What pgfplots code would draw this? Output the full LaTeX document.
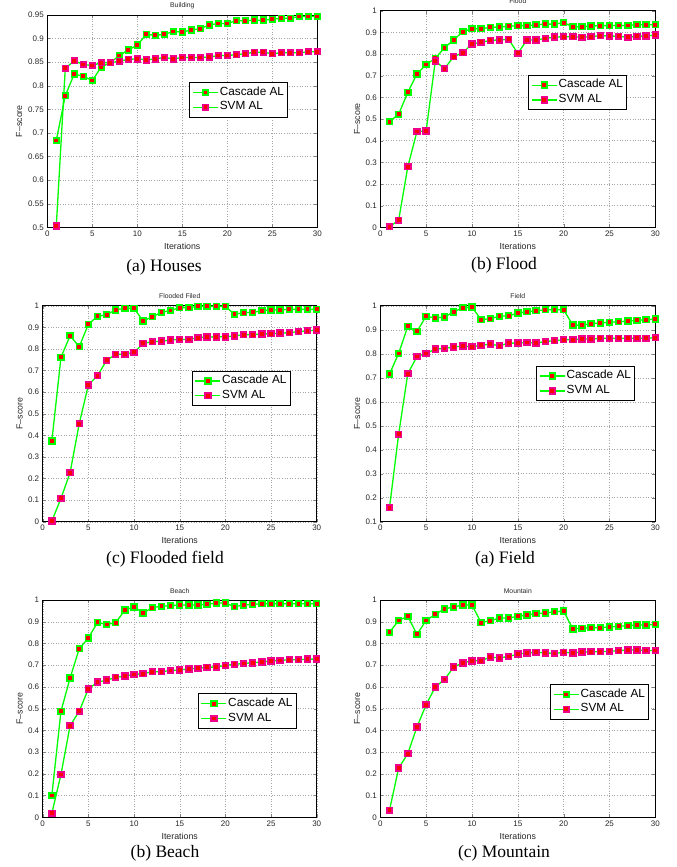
\documentclass[border=0pt]{standalone}
\usepackage{pgfplots}
\pgfplotsset{compat=1.18}
\usepackage{pgfplotstable}
\usepackage{fontspec}
\setmainfont{Liberation Sans}
\newfontfamily\capfont{Liberation Serif}

% x, Cascade AL, SVM AL
\pgfplotstableread{
x c s
1 0.684 0.503
2 0.779 0.837
3 0.825 0.853
4 0.820 0.845
5 0.811 0.843
6 0.840 0.849
7 0.849 0.849
8 0.864 0.852
9 0.876 0.856
10 0.886 0.857
11 0.909 0.855
12 0.907 0.857
13 0.909 0.860
14 0.915 0.857
15 0.914 0.860
16 0.918 0.860
17 0.921 0.860
18 0.929 0.861
19 0.932 0.864
20 0.932 0.864
21 0.938 0.866
22 0.938 0.868
23 0.939 0.871
24 0.939 0.871
25 0.941 0.868
26 0.943 0.870
27 0.943 0.870
28 0.947 0.870
29 0.947 0.872
30 0.947 0.872
}\houses

\pgfplotstableread{
x c s
1 0.488 0.003
2 0.522 0.032
3 0.623 0.280
4 0.708 0.442
5 0.752 0.445
6 0.780 0.768
7 0.829 0.732
8 0.865 0.788
9 0.903 0.806
10 0.917 0.846
11 0.917 0.854
12 0.923 0.863
13 0.925 0.865
14 0.928 0.868
15 0.931 0.803
16 0.931 0.865
17 0.935 0.865
18 0.938 0.872
19 0.938 0.878
20 0.945 0.880
21 0.926 0.880
22 0.926 0.877
23 0.929 0.880
24 0.931 0.885
25 0.931 0.883
26 0.932 0.882
27 0.932 0.877
28 0.935 0.882
29 0.935 0.883
30 0.935 0.888
}\flood

\pgfplotstableread{
x c s
1 0.373 0.003
2 0.761 0.108
3 0.861 0.227
4 0.810 0.454
5 0.914 0.633
6 0.951 0.676
7 0.958 0.747
8 0.981 0.775
9 0.988 0.775
10 0.988 0.784
11 0.929 0.826
12 0.949 0.833
13 0.969 0.836
14 0.978 0.841
15 0.991 0.844
16 0.991 0.844
17 0.997 0.852
18 0.997 0.855
19 0.997 0.856
20 0.997 0.856
21 0.960 0.860
22 0.968 0.866
23 0.969 0.866
24 0.977 0.869
25 0.980 0.870
26 0.981 0.873
27 0.983 0.875
28 0.983 0.880
29 0.983 0.884
30 0.983 0.887
}\floodedfield

\pgfplotstableread{
x c s
1 0.715 0.158
2 0.801 0.464
3 0.914 0.717
4 0.893 0.788
5 0.956 0.801
6 0.949 0.819
7 0.953 0.822
8 0.974 0.828
9 0.992 0.832
10 0.994 0.829
11 0.942 0.835
12 0.946 0.840
13 0.956 0.833
14 0.958 0.844
15 0.969 0.844
16 0.975 0.847
17 0.979 0.844
18 0.983 0.851
19 0.983 0.854
20 0.983 0.858
21 0.919 0.858
22 0.919 0.861
23 0.925 0.861
24 0.928 0.864
25 0.931 0.864
26 0.933 0.864
27 0.936 0.864
28 0.939 0.864
29 0.942 0.864
30 0.944 0.867
}\field

\pgfplotstableread{
x c s
1 0.100 0.018
2 0.488 0.197
3 0.641 0.422
4 0.776 0.488
5 0.825 0.591
6 0.897 0.622
7 0.887 0.631
8 0.896 0.644
9 0.954 0.650
10 0.968 0.657
11 0.940 0.661
12 0.965 0.670
13 0.971 0.670
14 0.974 0.676
15 0.977 0.678
16 0.977 0.683
17 0.977 0.686
18 0.980 0.690
19 0.986 0.692
20 0.986 0.699
21 0.969 0.704
22 0.977 0.708
23 0.980 0.711
24 0.983 0.715
25 0.983 0.720
26 0.983 0.722
27 0.983 0.725
28 0.983 0.725
29 0.983 0.728
30 0.983 0.728
}\beach

\pgfplotstableread{
x c s
1 0.851 0.032
2 0.906 0.226
3 0.925 0.293
4 0.842 0.416
5 0.906 0.518
6 0.934 0.600
7 0.959 0.634
8 0.968 0.691
9 0.977 0.711
10 0.977 0.720
11 0.896 0.721
12 0.905 0.737
13 0.917 0.734
14 0.917 0.740
15 0.925 0.751
16 0.931 0.757
17 0.937 0.759
18 0.940 0.757
19 0.946 0.754
20 0.949 0.759
21 0.867 0.757
22 0.870 0.760
23 0.873 0.762
24 0.873 0.762
25 0.876 0.764
26 0.879 0.767
27 0.882 0.770
28 0.885 0.770
29 0.885 0.768
30 0.888 0.768
}\mountain

\pgfplotsset{
  ylabx/.initial=-0.084,
  fig/.style={
    scale only axis, width=274pt, height=216pt,
    xmin=0, xmax=30, xtick={0,5,...,30},
    tick align=inside, major tick length=3pt,
    axis line style={line width=0.8pt},
    grid=major,
    grid style={gray!70, line width=0.4pt, dash pattern=on 0.6pt off 2pt},
    tick label style={font=\fontsize{8}{9.5}\selectfont, color=black!85},
    /pgf/number format/assume math mode=true,
    label style={font=\fontsize{8.8}{10}\selectfont, color=black!85},
    xlabel={Iterations}, ylabel={F--score},
    xlabel style={at={(axis description cs:0.5,0)}, yshift=-19pt, anchor=center},
    ylabel style={at={(axis description cs:\pgfkeysvalueof{/pgfplots/ylabx},0.5)}, anchor=center},
    every axis title shift=0pt,
    title style={font=\fontsize{6.8}{8}\selectfont, color=black!85,
      at={(axis description cs:0.5,1)}, yshift=9.3pt, anchor=center},
    legend style={font=\fontsize{11.8}{14}\selectfont, draw=black, line width=0.9pt,
      fill=white, anchor=north west, inner xsep=2.5pt, inner ysep=2.5pt,
      row sep=0pt, column sep=0pt,
      nodes={inner sep=1.2pt, text height=8.8pt, text depth=3.6pt}},
    legend cell align=left,
    legend image code/.code={
      \draw[mark repeat=2, mark phase=2] plot coordinates {(0pt,0pt) (12.5pt,0pt) (25pt,0pt)};},
  },
  casc/.style={color=green, line width=1.3pt, mark=square*, mark size=2.8pt,
    mark options={draw=green, fill=red, line width=1.8pt, solid}},
  svm/.style={color=green, line width=1.3pt, mark=square*, mark size=2.8pt,
    mark options={draw=magenta, fill=red, line width=1.8pt, solid}},
}

\begin{document}
\begin{tikzpicture}
\useasboundingbox (0pt,0pt) rectangle (677pt,-867pt);

% (a) Houses
\begin{axis}[fig, ylabx=-0.104, at={(47.3pt,-15pt)}, anchor=north west, width=270pt, height=212.3pt,
  title={Building}, ymin=0.5, ymax=0.95, ytick={0.5,0.55,...,0.951},
  legend style={at={(rel axis cs:0.526,0.684)}}]
\addplot[casc] table[x=x, y=c] {\houses};
\addplot[svm] table[x=x, y=s] {\houses};
\legend{Cascade AL, SVM AL}
\end{axis}

% (b) Flood
\begin{axis}[fig, at={(380.3pt,-10.7pt)}, anchor=north west, width=275pt, height=216.6pt,
  title={Flood}, ymin=0, ymax=1, ytick={0,0.1,...,1.01},
  legend style={at={(rel axis cs:0.538,0.704)}}]
\addplot[casc] table[x=x, y=c] {\flood};
\addplot[svm] table[x=x, y=s] {\flood};
\legend{Cascade AL, SVM AL}
\end{axis}

% (c) Flooded field
\begin{axis}[fig, at={(42.7pt,-305.7pt)}, anchor=north west, width=274pt, height=216pt,
  title={Flooded Filed}, ymin=0, ymax=1, ytick={0,0.1,...,1.01},
  legend style={at={(rel axis cs:0.544,0.70)}}]
\addplot[casc] table[x=x, y=c] {\floodedfield};
\addplot[svm] table[x=x, y=s] {\floodedfield};
\legend{Cascade AL, SVM AL}
\end{axis}

% (a) Field
\begin{axis}[fig, at={(380.3pt,-305.7pt)}, anchor=north west, width=275pt, height=216pt,
  title={Field}, ymin=0.1, ymax=1, ytick={0.1,0.2,...,1.01},
  legend style={at={(rel axis cs:0.567,0.722)}}]
\addplot[casc] table[x=x, y=c] {\field};
\addplot[svm] table[x=x, y=s] {\field};
\legend{Cascade AL, SVM AL}
\end{axis}

% (b) Beach
\begin{axis}[fig, at={(42.7pt,-600pt)}, anchor=north west, width=274pt, height=217.3pt,
  title={Beach}, ymin=0, ymax=1, ytick={0,0.1,...,1.01},
  legend style={at={(rel axis cs:0.566,0.57)}}]
\addplot[casc] table[x=x, y=c] {\beach};
\addplot[svm] table[x=x, y=s] {\beach};
\legend{Cascade AL, SVM AL}
\end{axis}

% (c) Mountain
\begin{axis}[fig, at={(380.3pt,-600pt)}, anchor=north west, width=275pt, height=217.3pt,
  title={Mountain}, ymin=0, ymax=1, ytick={0,0.1,...,1.01},
  legend style={at={(rel axis cs:0.618,0.613)}}]
\addplot[casc] table[x=x, y=c] {\mountain};
\addplot[svm] table[x=x, y=s] {\mountain};
\legend{Cascade AL, SVM AL}
\end{axis}

% sub-captions
\begin{scope}[every node/.style={font=\capfont\fontsize{17.5}{20}\selectfont, anchor=center}]
\node at (164pt,-267pt) {(a) Houses};
\node at (504pt,-265pt) {(b) Flood};
\node at (165pt,-559pt) {(c) Flooded field};
\node at (505pt,-559pt) {(a) Field};
\node at (165pt,-853pt) {(b) Beach};
\node at (504pt,-853pt) {(c) Mountain};
\end{scope}
\end{tikzpicture}
\end{document}
